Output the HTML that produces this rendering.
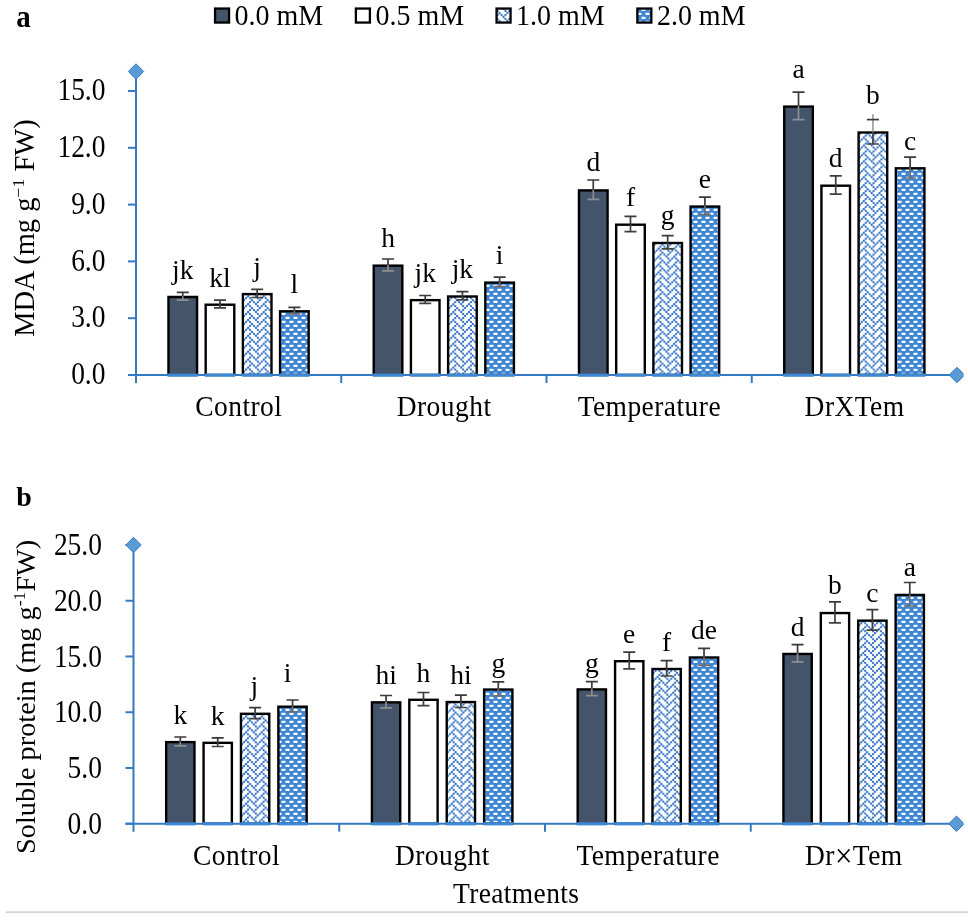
<!DOCTYPE html><html><head><meta charset="utf-8"><style>html,body{margin:0;padding:0;background:#fff;}svg{display:block;will-change:transform;}text{font-family:"Liberation Serif", serif;fill:#000;}</style></head><body>
<svg width="968" height="920" viewBox="0 0 968 920">
<defs>
<pattern id="br" patternUnits="userSpaceOnUse" width="8" height="8" x="0" y="0"><rect width="8" height="8" fill="#3f87d3"/><rect x="1.3" y="0.8" width="4.4" height="2.3" rx="1.1" fill="#fff"/><rect x="5.3" y="4.8" width="4.4" height="2.3" rx="1.1" fill="#fff"/><rect x="-2.7" y="4.8" width="4.4" height="2.3" rx="1.1" fill="#fff"/></pattern>
<clipPath id="rclip"><rect x="0" y="0" width="963.6" height="920"/></clipPath>
</defs>
<rect width="968" height="920" fill="#fff"/>
<rect x="168.47" y="296.95" width="28.60" height="78.05" fill="#44546a" stroke="#000" stroke-width="2.40"/>
<path d="M182.78 292.40 V296.25 M176.78 292.40 H188.78" stroke="#3a3a3a" stroke-width="1.7" fill="none"/>
<path d="M182.78 296.25 V300.10 M176.78 300.10 H188.78" stroke="#8e8e8e" stroke-width="1.7" fill="none"/>
<text x="182.78" y="279.20" text-anchor="middle" font-size="27.50" font-weight="normal">jk</text>
<rect x="205.68" y="304.70" width="28.60" height="70.30" fill="#fff" stroke="#000" stroke-width="2.40"/>
<path d="M219.98 300.10 V304.00 M213.98 300.10 H225.98" stroke="#3a3a3a" stroke-width="1.7" fill="none"/>
<path d="M219.98 304.00 V307.90 M213.98 307.90 H225.98" stroke="#404040" stroke-width="1.7" fill="none"/>
<text x="219.98" y="287.00" text-anchor="middle" font-size="27.50" font-weight="normal">kl</text>
<rect x="242.88" y="294.10" width="28.60" height="80.90" fill="url(#zzb0)" stroke="#000" stroke-width="2.40"/>
<path d="M257.18 289.30 V293.40 M251.18 289.30 H263.18" stroke="#3a3a3a" stroke-width="1.7" fill="none"/>
<path d="M257.18 293.40 V297.50 M251.18 297.50 H263.18" stroke="#444444" stroke-width="1.7" fill="none"/>
<text x="257.18" y="275.80" text-anchor="middle" font-size="27.50" font-weight="normal">j</text>
<rect x="280.07" y="311.30" width="28.60" height="63.70" fill="url(#br)" stroke="#000" stroke-width="2.40"/>
<path d="M294.38 307.30 V310.60 M288.38 307.30 H300.38" stroke="#3a3a3a" stroke-width="1.7" fill="none"/>
<path d="M294.38 310.60 V313.90 M288.38 313.90 H300.38" stroke="#6e6e6e" stroke-width="1.7" fill="none"/>
<text x="294.38" y="292.90" text-anchor="middle" font-size="27.50" font-weight="normal">l</text>
<rect x="373.72" y="265.65" width="28.60" height="109.35" fill="#44546a" stroke="#000" stroke-width="2.40"/>
<path d="M388.02 259.00 V264.95 M382.02 259.00 H394.02" stroke="#3a3a3a" stroke-width="1.7" fill="none"/>
<path d="M388.02 264.95 V270.90 M382.02 270.90 H394.02" stroke="#8e8e8e" stroke-width="1.7" fill="none"/>
<text x="388.02" y="247.20" text-anchor="middle" font-size="27.50" font-weight="normal">h</text>
<rect x="410.92" y="300.15" width="28.60" height="74.85" fill="#fff" stroke="#000" stroke-width="2.40"/>
<path d="M425.22 295.50 V299.45 M419.22 295.50 H431.22" stroke="#3a3a3a" stroke-width="1.7" fill="none"/>
<path d="M425.22 299.45 V303.40 M419.22 303.40 H431.22" stroke="#404040" stroke-width="1.7" fill="none"/>
<text x="425.22" y="281.80" text-anchor="middle" font-size="27.50" font-weight="normal">jk</text>
<rect x="448.12" y="296.50" width="28.60" height="78.50" fill="url(#zzb1)" stroke="#000" stroke-width="2.40"/>
<path d="M462.42 291.70 V295.80 M456.42 291.70 H468.42" stroke="#3a3a3a" stroke-width="1.7" fill="none"/>
<path d="M462.42 295.80 V299.90 M456.42 299.90 H468.42" stroke="#444444" stroke-width="1.7" fill="none"/>
<text x="462.42" y="278.00" text-anchor="middle" font-size="27.50" font-weight="normal">jk</text>
<rect x="485.32" y="282.60" width="28.60" height="92.40" fill="url(#br)" stroke="#000" stroke-width="2.40"/>
<path d="M499.62 277.10 V281.90 M493.62 277.10 H505.62" stroke="#3a3a3a" stroke-width="1.7" fill="none"/>
<path d="M499.62 281.90 V286.70 M493.62 286.70 H505.62" stroke="#6e6e6e" stroke-width="1.7" fill="none"/>
<text x="499.62" y="263.90" text-anchor="middle" font-size="27.50" font-weight="normal">i</text>
<rect x="578.98" y="190.40" width="28.60" height="184.60" fill="#44546a" stroke="#000" stroke-width="2.40"/>
<path d="M593.27 180.00 V189.70 M587.27 180.00 H599.27" stroke="#3a3a3a" stroke-width="1.7" fill="none"/>
<path d="M593.27 189.70 V199.40 M587.27 199.40 H599.27" stroke="#8e8e8e" stroke-width="1.7" fill="none"/>
<text x="593.27" y="170.70" text-anchor="middle" font-size="27.50" font-weight="normal">d</text>
<rect x="616.18" y="224.70" width="28.60" height="150.30" fill="#fff" stroke="#000" stroke-width="2.40"/>
<path d="M630.48 216.35 V224.00 M624.48 216.35 H636.48" stroke="#3a3a3a" stroke-width="1.7" fill="none"/>
<path d="M630.48 224.00 V231.65 M624.48 231.65 H636.48" stroke="#404040" stroke-width="1.7" fill="none"/>
<text x="630.48" y="206.40" text-anchor="middle" font-size="27.50" font-weight="normal">f</text>
<rect x="653.38" y="243.00" width="28.60" height="132.00" fill="url(#zzb2)" stroke="#000" stroke-width="2.40"/>
<path d="M667.67 235.70 V242.30 M661.67 235.70 H673.67" stroke="#3a3a3a" stroke-width="1.7" fill="none"/>
<path d="M667.67 242.30 V248.90 M661.67 248.90 H673.67" stroke="#444444" stroke-width="1.7" fill="none"/>
<text x="667.67" y="223.70" text-anchor="middle" font-size="27.50" font-weight="normal">g</text>
<rect x="690.58" y="206.55" width="28.60" height="168.45" fill="url(#br)" stroke="#000" stroke-width="2.40"/>
<path d="M704.88 197.10 V205.85 M698.88 197.10 H710.88" stroke="#3a3a3a" stroke-width="1.7" fill="none"/>
<path d="M704.88 205.85 V214.60 M698.88 214.60 H710.88" stroke="#6e6e6e" stroke-width="1.7" fill="none"/>
<text x="704.88" y="188.20" text-anchor="middle" font-size="27.50" font-weight="normal">e</text>
<rect x="784.23" y="106.60" width="28.60" height="268.40" fill="#44546a" stroke="#000" stroke-width="2.40"/>
<path d="M798.52 92.20 V105.90 M792.52 92.20 H804.52" stroke="#3a3a3a" stroke-width="1.7" fill="none"/>
<path d="M798.52 105.90 V119.60 M792.52 119.60 H804.52" stroke="#8e8e8e" stroke-width="1.7" fill="none"/>
<text x="798.52" y="77.80" text-anchor="middle" font-size="27.50" font-weight="normal">a</text>
<rect x="821.43" y="185.70" width="28.60" height="189.30" fill="#fff" stroke="#000" stroke-width="2.40"/>
<path d="M835.73 175.80 V185.00 M829.73 175.80 H841.73" stroke="#3a3a3a" stroke-width="1.7" fill="none"/>
<path d="M835.73 185.00 V194.20 M829.73 194.20 H841.73" stroke="#404040" stroke-width="1.7" fill="none"/>
<text x="835.73" y="166.50" text-anchor="middle" font-size="27.50" font-weight="normal">d</text>
<rect x="858.62" y="132.50" width="28.60" height="242.50" fill="url(#zzb3)" stroke="#000" stroke-width="2.40"/>
<path d="M872.92 114.30 V131.80" stroke="#a4a4a4" stroke-width="1.8" fill="none"/>
<path d="M866.92 119.60 H878.92" stroke="#3a3a3a" stroke-width="1.7" fill="none"/>
<path d="M872.92 131.80 V144.00 M866.92 144.00 H878.92" stroke="#444444" stroke-width="1.7" fill="none"/>
<text x="872.92" y="104.20" text-anchor="middle" font-size="27.50" font-weight="normal">b</text>
<rect x="895.83" y="168.30" width="28.60" height="206.70" fill="url(#br)" stroke="#000" stroke-width="2.40"/>
<path d="M910.12 157.20 V167.60 M904.12 157.20 H916.12" stroke="#3a3a3a" stroke-width="1.7" fill="none"/>
<path d="M910.12 167.60 V178.00 M904.12 178.00 H916.12" stroke="#6e6e6e" stroke-width="1.7" fill="none"/>
<text x="910.12" y="150.10" text-anchor="middle" font-size="27.50" font-weight="normal">c</text>
<path d="M128.00 375.00 H957.00" stroke="#3479c4" stroke-width="2" fill="none"/>
<path d="M136.00 71.50 V383.00" stroke="#3479c4" stroke-width="2" fill="none"/>
<rect x="167.88" y="373.50" width="29.80" height="3.2" fill="#3f88d4"/>
<rect x="205.08" y="373.50" width="29.80" height="3.2" fill="#3f88d4"/>
<rect x="242.28" y="373.50" width="29.80" height="3.2" fill="#3f88d4"/>
<rect x="279.48" y="373.50" width="29.80" height="3.2" fill="#3f88d4"/>
<rect x="373.12" y="373.50" width="29.80" height="3.2" fill="#3f88d4"/>
<rect x="410.32" y="373.50" width="29.80" height="3.2" fill="#3f88d4"/>
<rect x="447.52" y="373.50" width="29.80" height="3.2" fill="#3f88d4"/>
<rect x="484.73" y="373.50" width="29.80" height="3.2" fill="#3f88d4"/>
<rect x="578.38" y="373.50" width="29.80" height="3.2" fill="#3f88d4"/>
<rect x="615.58" y="373.50" width="29.80" height="3.2" fill="#3f88d4"/>
<rect x="652.77" y="373.50" width="29.80" height="3.2" fill="#3f88d4"/>
<rect x="689.98" y="373.50" width="29.80" height="3.2" fill="#3f88d4"/>
<rect x="783.62" y="373.50" width="29.80" height="3.2" fill="#3f88d4"/>
<rect x="820.83" y="373.50" width="29.80" height="3.2" fill="#3f88d4"/>
<rect x="858.02" y="373.50" width="29.80" height="3.2" fill="#3f88d4"/>
<rect x="895.23" y="373.50" width="29.80" height="3.2" fill="#3f88d4"/>
<path d="M341.25 375.00 V383.00" stroke="#3479c4" stroke-width="2" fill="none"/>
<path d="M546.50 375.00 V383.00" stroke="#3479c4" stroke-width="2" fill="none"/>
<path d="M751.75 375.00 V383.00" stroke="#3479c4" stroke-width="2" fill="none"/>
<path d="M128.00 375.00 H136.00" stroke="#3479c4" stroke-width="2" fill="none"/>
<text x="105.50" y="343.036" text-anchor="end" font-size="27.50" font-weight="normal" transform="scale(1 1.1200)">0.0</text>
<path d="M128.00 318.20 H136.00" stroke="#3479c4" stroke-width="2" fill="none"/>
<text x="105.50" y="292.321" text-anchor="end" font-size="27.50" font-weight="normal" transform="scale(1 1.1200)">3.0</text>
<path d="M128.00 261.40 H136.00" stroke="#3479c4" stroke-width="2" fill="none"/>
<text x="105.50" y="241.607" text-anchor="end" font-size="27.50" font-weight="normal" transform="scale(1 1.1200)">6.0</text>
<path d="M128.00 204.60 H136.00" stroke="#3479c4" stroke-width="2" fill="none"/>
<text x="105.50" y="190.893" text-anchor="end" font-size="27.50" font-weight="normal" transform="scale(1 1.1200)">9.0</text>
<path d="M128.00 147.80 H136.00" stroke="#3479c4" stroke-width="2" fill="none"/>
<text x="105.50" y="140.179" text-anchor="end" font-size="27.50" font-weight="normal" transform="scale(1 1.1200)">12.0</text>
<path d="M128.00 91.00 H136.00" stroke="#3479c4" stroke-width="2" fill="none"/>
<text x="105.50" y="89.464" text-anchor="end" font-size="27.50" font-weight="normal" transform="scale(1 1.1200)">15.0</text>
<path d="M136.00 63.80 L143.70 71.50 L136.00 79.20 L128.30 71.50 Z" fill="#5b9bd5" stroke="#3479c4" stroke-width="1"/>
<path d="M957.00 367.30 L964.70 375.00 L957.00 382.70 L949.30 375.00 Z" fill="#5b9bd5" stroke="#3479c4" stroke-width="1" clip-path="url(#rclip)"/>
<text x="238.85" y="390.610" text-anchor="middle" font-size="27.50" font-weight="normal" transform="scale(1 1.0650)" letter-spacing="0.45">Control</text>
<text x="444.10" y="390.610" text-anchor="middle" font-size="27.50" font-weight="normal" transform="scale(1 1.0650)" letter-spacing="0.45">Drought</text>
<text x="649.35" y="390.610" text-anchor="middle" font-size="27.50" font-weight="normal" transform="scale(1 1.0650)" letter-spacing="0.45">Temperature</text>
<text x="854.60" y="390.610" text-anchor="middle" font-size="27.50" font-weight="normal" transform="scale(1 1.0650)" letter-spacing="0.45">DrXTem</text>
<rect x="166.17" y="742.10" width="28.30" height="81.60" fill="#44546a" stroke="#000" stroke-width="2.40"/>
<path d="M180.32 737.00 V741.40 M174.32 737.00 H186.32" stroke="#3a3a3a" stroke-width="1.7" fill="none"/>
<path d="M180.32 741.40 V745.80 M174.32 745.80 H186.32" stroke="#8e8e8e" stroke-width="1.7" fill="none"/>
<text x="180.32" y="723.70" text-anchor="middle" font-size="27.50" font-weight="normal">k</text>
<rect x="203.57" y="742.85" width="28.30" height="80.85" fill="#fff" stroke="#000" stroke-width="2.40"/>
<path d="M217.72 737.80 V742.15 M211.72 737.80 H223.72" stroke="#3a3a3a" stroke-width="1.7" fill="none"/>
<path d="M217.72 742.15 V746.50 M211.72 746.50 H223.72" stroke="#404040" stroke-width="1.7" fill="none"/>
<text x="217.72" y="725.00" text-anchor="middle" font-size="27.50" font-weight="normal">k</text>
<rect x="240.97" y="713.80" width="28.30" height="109.90" fill="url(#zzb4)" stroke="#000" stroke-width="2.40"/>
<path d="M255.12 707.60 V713.10 M249.12 707.60 H261.12" stroke="#3a3a3a" stroke-width="1.7" fill="none"/>
<path d="M255.12 713.10 V718.60 M249.12 718.60 H261.12" stroke="#444444" stroke-width="1.7" fill="none"/>
<text x="254.20" y="695.00" text-anchor="middle" font-size="27.50" font-weight="normal">j</text>
<rect x="278.37" y="706.70" width="28.30" height="117.00" fill="url(#br)" stroke="#000" stroke-width="2.40"/>
<path d="M292.52 700.00 V706.00 M286.52 700.00 H298.52" stroke="#3a3a3a" stroke-width="1.7" fill="none"/>
<path d="M292.52 706.00 V712.00 M286.52 712.00 H298.52" stroke="#6e6e6e" stroke-width="1.7" fill="none"/>
<text x="287.60" y="681.80" text-anchor="middle" font-size="27.50" font-weight="normal">i</text>
<rect x="371.93" y="702.35" width="28.30" height="121.35" fill="#44546a" stroke="#000" stroke-width="2.40"/>
<path d="M386.08 695.50 V701.65 M380.08 695.50 H392.08" stroke="#3a3a3a" stroke-width="1.7" fill="none"/>
<path d="M386.08 701.65 V707.80 M380.08 707.80 H392.08" stroke="#8e8e8e" stroke-width="1.7" fill="none"/>
<text x="386.08" y="683.70" text-anchor="middle" font-size="27.50" font-weight="normal">hi</text>
<rect x="409.32" y="699.80" width="28.30" height="123.90" fill="#fff" stroke="#000" stroke-width="2.40"/>
<path d="M423.48 692.50 V699.10 M417.48 692.50 H429.48" stroke="#3a3a3a" stroke-width="1.7" fill="none"/>
<path d="M423.48 699.10 V705.70 M417.48 705.70 H429.48" stroke="#404040" stroke-width="1.7" fill="none"/>
<text x="423.48" y="681.80" text-anchor="middle" font-size="27.50" font-weight="normal">h</text>
<rect x="446.73" y="702.05" width="28.30" height="121.65" fill="url(#zzb5)" stroke="#000" stroke-width="2.40"/>
<path d="M460.88 695.20 V701.35 M454.88 695.20 H466.88" stroke="#3a3a3a" stroke-width="1.7" fill="none"/>
<path d="M460.88 701.35 V707.50 M454.88 707.50 H466.88" stroke="#444444" stroke-width="1.7" fill="none"/>
<text x="460.88" y="683.60" text-anchor="middle" font-size="27.50" font-weight="normal">hi</text>
<rect x="484.12" y="689.55" width="28.30" height="134.15" fill="url(#br)" stroke="#000" stroke-width="2.40"/>
<path d="M498.28 681.80 V688.85 M492.28 681.80 H504.28" stroke="#3a3a3a" stroke-width="1.7" fill="none"/>
<path d="M498.28 688.85 V695.90 M492.28 695.90 H504.28" stroke="#6e6e6e" stroke-width="1.7" fill="none"/>
<text x="498.28" y="671.60" text-anchor="middle" font-size="27.50" font-weight="normal">g</text>
<rect x="577.68" y="689.40" width="28.30" height="134.30" fill="#44546a" stroke="#000" stroke-width="2.40"/>
<path d="M591.83 681.70 V688.70 M585.83 681.70 H597.83" stroke="#3a3a3a" stroke-width="1.7" fill="none"/>
<path d="M591.83 688.70 V695.70 M585.83 695.70 H597.83" stroke="#8e8e8e" stroke-width="1.7" fill="none"/>
<text x="591.83" y="671.50" text-anchor="middle" font-size="27.50" font-weight="normal">g</text>
<rect x="615.08" y="661.20" width="28.30" height="162.50" fill="#fff" stroke="#000" stroke-width="2.40"/>
<path d="M629.23 652.20 V660.50 M623.23 652.20 H635.23" stroke="#3a3a3a" stroke-width="1.7" fill="none"/>
<path d="M629.23 660.50 V668.80 M623.23 668.80 H635.23" stroke="#404040" stroke-width="1.7" fill="none"/>
<text x="629.23" y="643.00" text-anchor="middle" font-size="27.50" font-weight="normal">e</text>
<rect x="652.48" y="669.00" width="28.30" height="154.70" fill="url(#zzb6)" stroke="#000" stroke-width="2.40"/>
<path d="M666.62 660.60 V668.30 M660.62 660.60 H672.62" stroke="#3a3a3a" stroke-width="1.7" fill="none"/>
<path d="M666.62 668.30 V676.00 M660.62 676.00 H672.62" stroke="#444444" stroke-width="1.7" fill="none"/>
<text x="666.62" y="650.60" text-anchor="middle" font-size="27.50" font-weight="normal">f</text>
<rect x="689.88" y="657.50" width="28.30" height="166.20" fill="url(#br)" stroke="#000" stroke-width="2.40"/>
<path d="M704.02 648.30 V656.80 M698.02 648.30 H710.02" stroke="#3a3a3a" stroke-width="1.7" fill="none"/>
<path d="M704.02 656.80 V665.30 M698.02 665.30 H710.02" stroke="#6e6e6e" stroke-width="1.7" fill="none"/>
<text x="704.02" y="639.00" text-anchor="middle" font-size="27.50" font-weight="normal">de</text>
<rect x="783.43" y="653.95" width="28.30" height="169.75" fill="#44546a" stroke="#000" stroke-width="2.40"/>
<path d="M797.58 644.60 V653.25 M791.58 644.60 H803.58" stroke="#3a3a3a" stroke-width="1.7" fill="none"/>
<path d="M797.58 653.25 V661.90 M791.58 661.90 H803.58" stroke="#8e8e8e" stroke-width="1.7" fill="none"/>
<text x="797.58" y="635.50" text-anchor="middle" font-size="27.50" font-weight="normal">d</text>
<rect x="820.83" y="613.05" width="28.30" height="210.65" fill="#fff" stroke="#000" stroke-width="2.40"/>
<path d="M834.98 601.80 V612.35 M828.98 601.80 H840.98" stroke="#3a3a3a" stroke-width="1.7" fill="none"/>
<path d="M834.98 612.35 V622.90 M828.98 622.90 H840.98" stroke="#404040" stroke-width="1.7" fill="none"/>
<text x="834.98" y="594.40" text-anchor="middle" font-size="27.50" font-weight="normal">b</text>
<rect x="858.23" y="620.65" width="28.30" height="203.05" fill="url(#zzb7)" stroke="#000" stroke-width="2.40"/>
<path d="M872.38 609.70 V619.95 M866.38 609.70 H878.38" stroke="#3a3a3a" stroke-width="1.7" fill="none"/>
<path d="M872.38 619.95 V630.20 M866.38 630.20 H878.38" stroke="#444444" stroke-width="1.7" fill="none"/>
<text x="872.38" y="602.20" text-anchor="middle" font-size="27.50" font-weight="normal">c</text>
<rect x="895.62" y="594.95" width="28.30" height="228.75" fill="url(#br)" stroke="#000" stroke-width="2.40"/>
<path d="M909.77 582.50 V594.25 M903.77 582.50 H915.77" stroke="#3a3a3a" stroke-width="1.7" fill="none"/>
<path d="M909.77 594.25 V606.00 M903.77 606.00 H915.77" stroke="#6e6e6e" stroke-width="1.7" fill="none"/>
<text x="909.77" y="576.20" text-anchor="middle" font-size="27.50" font-weight="normal">a</text>
<path d="M125.50 823.70 H956.50" stroke="#3479c4" stroke-width="2" fill="none"/>
<path d="M133.50 545.00 V831.70" stroke="#3479c4" stroke-width="2" fill="none"/>
<rect x="165.57" y="822.20" width="29.50" height="3.2" fill="#3f88d4"/>
<rect x="202.97" y="822.20" width="29.50" height="3.2" fill="#3f88d4"/>
<rect x="240.37" y="822.20" width="29.50" height="3.2" fill="#3f88d4"/>
<rect x="277.77" y="822.20" width="29.50" height="3.2" fill="#3f88d4"/>
<rect x="371.33" y="822.20" width="29.50" height="3.2" fill="#3f88d4"/>
<rect x="408.73" y="822.20" width="29.50" height="3.2" fill="#3f88d4"/>
<rect x="446.13" y="822.20" width="29.50" height="3.2" fill="#3f88d4"/>
<rect x="483.53" y="822.20" width="29.50" height="3.2" fill="#3f88d4"/>
<rect x="577.08" y="822.20" width="29.50" height="3.2" fill="#3f88d4"/>
<rect x="614.48" y="822.20" width="29.50" height="3.2" fill="#3f88d4"/>
<rect x="651.88" y="822.20" width="29.50" height="3.2" fill="#3f88d4"/>
<rect x="689.27" y="822.20" width="29.50" height="3.2" fill="#3f88d4"/>
<rect x="782.83" y="822.20" width="29.50" height="3.2" fill="#3f88d4"/>
<rect x="820.23" y="822.20" width="29.50" height="3.2" fill="#3f88d4"/>
<rect x="857.62" y="822.20" width="29.50" height="3.2" fill="#3f88d4"/>
<rect x="895.02" y="822.20" width="29.50" height="3.2" fill="#3f88d4"/>
<path d="M339.25 823.70 V831.70" stroke="#3479c4" stroke-width="2" fill="none"/>
<path d="M545.00 823.70 V831.70" stroke="#3479c4" stroke-width="2" fill="none"/>
<path d="M750.75 823.70 V831.70" stroke="#3479c4" stroke-width="2" fill="none"/>
<path d="M125.50 823.70 H133.50" stroke="#3479c4" stroke-width="2" fill="none"/>
<text x="102.00" y="744.464" text-anchor="end" font-size="27.50" font-weight="normal" transform="scale(1 1.1200)">0.0</text>
<path d="M125.50 767.96 H133.50" stroke="#3479c4" stroke-width="2" fill="none"/>
<text x="102.00" y="694.696" text-anchor="end" font-size="27.50" font-weight="normal" transform="scale(1 1.1200)">5.0</text>
<path d="M125.50 712.22 H133.50" stroke="#3479c4" stroke-width="2" fill="none"/>
<text x="102.00" y="644.929" text-anchor="end" font-size="27.50" font-weight="normal" transform="scale(1 1.1200)">10.0</text>
<path d="M125.50 656.48 H133.50" stroke="#3479c4" stroke-width="2" fill="none"/>
<text x="102.00" y="595.161" text-anchor="end" font-size="27.50" font-weight="normal" transform="scale(1 1.1200)">15.0</text>
<path d="M125.50 600.74 H133.50" stroke="#3479c4" stroke-width="2" fill="none"/>
<text x="102.00" y="545.393" text-anchor="end" font-size="27.50" font-weight="normal" transform="scale(1 1.1200)">20.0</text>
<path d="M125.50 545.00 H133.50" stroke="#3479c4" stroke-width="2" fill="none"/>
<text x="102.00" y="495.625" text-anchor="end" font-size="27.50" font-weight="normal" transform="scale(1 1.1200)">25.0</text>
<path d="M133.50 537.30 L141.20 545.00 L133.50 552.70 L125.80 545.00 Z" fill="#5b9bd5" stroke="#3479c4" stroke-width="1"/>
<path d="M956.50 816.00 L964.20 823.70 L956.50 831.40 L948.80 823.70 Z" fill="#5b9bd5" stroke="#3479c4" stroke-width="1" clip-path="url(#rclip)"/>
<text x="236.60" y="812.394" text-anchor="middle" font-size="27.50" font-weight="normal" transform="scale(1 1.0650)" letter-spacing="0.45">Control</text>
<text x="442.35" y="812.394" text-anchor="middle" font-size="27.50" font-weight="normal" transform="scale(1 1.0650)" letter-spacing="0.45">Drought</text>
<text x="648.10" y="812.394" text-anchor="middle" font-size="27.50" font-weight="normal" transform="scale(1 1.0650)" letter-spacing="0.45">Temperature</text>
<text x="853.85" y="812.394" text-anchor="middle" font-size="27.50" font-weight="normal" transform="scale(1 1.0650)" letter-spacing="0.45">Dr<tspan font-size="31" dy="1.6">×</tspan><tspan dy="-1.6">Tem</tspan></text>
<text x="23.50" y="25.352" text-anchor="middle" font-size="29.00" font-weight="bold" transform="scale(1 1.0650)">a</text>
<text x="24.00" y="506.00" text-anchor="middle" font-size="28.00" font-weight="bold">b</text>
<rect x="215.05" y="8.55" width="14.0" height="14.0" fill="#44546a" stroke="#000" stroke-width="2.3"/>
<text x="234.60" y="23.099" text-anchor="start" font-size="28.00" font-weight="normal" transform="scale(1 1.0650)">0.0 mM</text>
<rect x="355.90" y="8.55" width="14.0" height="14.0" fill="#fff" stroke="#000" stroke-width="2.3"/>
<text x="375.45" y="23.099" text-anchor="start" font-size="28.00" font-weight="normal" transform="scale(1 1.0650)">0.5 mM</text>
<rect x="496.55" y="8.55" width="14.0" height="14.0" fill="url(#zz)" stroke="#000" stroke-width="2.3"/>
<text x="516.10" y="23.099" text-anchor="start" font-size="28.00" font-weight="normal" transform="scale(1 1.0650)">1.0 mM</text>
<rect x="637.35" y="8.55" width="14.0" height="14.0" fill="url(#br)" stroke="#000" stroke-width="2.3"/>
<text x="656.90" y="23.099" text-anchor="start" font-size="28.00" font-weight="normal" transform="scale(1 1.0650)">2.0 mM</text>
<text transform="translate(34.20 228.10) rotate(-90)" text-anchor="middle" font-size="28.50">MDA (mg g<tspan font-size="17.67" dy="-10">−1</tspan><tspan dy="10"> FW)</tspan></text>
<text transform="translate(34.60 696.90) rotate(-90)" text-anchor="middle" font-size="28.30">Soluble protein (mg g<tspan font-size="17.55" dy="-10">-1</tspan><tspan dy="10">FW)</tspan></text>
<text x="516.19" y="847.981" text-anchor="middle" font-size="27.50" font-weight="normal" transform="scale(1 1.0650)" letter-spacing="0.38">Treatments</text>
<rect x="6" y="911.3" width="962" height="1.8" fill="#d4d4d4"/>
<defs><pattern id="zzb0" patternUnits="userSpaceOnUse" width="15.700" height="7.930" x="247.044" y="303.109"><rect width="15.700" height="7.930" fill="#fff"/><path d="M0.98 0.99L-0.98 2.97M0.98 8.92L-0.98 10.90M16.68 0.99L14.72 2.97M16.68 8.92L14.72 10.90M0.98 0.99L2.94 2.97M0.98 8.92L2.94 10.90M16.68 0.99L18.64 2.97M16.68 8.92L18.64 10.90M8.83 0.99L10.79 2.97M8.83 8.92L10.79 10.90M2.94 2.97L4.91 4.96M10.79 2.97L12.76 4.96M-0.98 2.97L-2.94 4.96M14.72 2.97L12.76 4.96M4.91 -2.97L2.94 -0.99M4.91 4.96L2.94 6.94M4.91 -2.97L6.87 -0.99M4.91 4.96L6.87 6.94M12.76 -2.97L10.79 -0.99M12.76 4.96L10.79 6.94M2.94 -0.99L0.98 0.99M2.94 6.94L0.98 8.92M18.64 -0.99L16.68 0.99M18.64 6.94L16.68 8.92M6.87 -0.99L8.83 0.99M6.87 6.94L8.83 8.92M10.79 -0.99L8.83 0.99M10.79 6.94L8.83 8.92" stroke="#5f97d8" stroke-width="1.00" fill="none"/><g fill="#2163c0"><rect x="0.11" y="0.12" width="1.75" height="1.75"/><rect x="0.11" y="8.05" width="1.75" height="1.75"/><rect x="15.81" y="0.12" width="1.75" height="1.75"/><rect x="15.81" y="8.05" width="1.75" height="1.75"/><rect x="7.96" y="0.12" width="1.75" height="1.75"/><rect x="7.96" y="8.05" width="1.75" height="1.75"/><rect x="2.07" y="2.10" width="1.75" height="1.75"/><rect x="9.92" y="2.10" width="1.75" height="1.75"/><rect x="13.84" y="2.10" width="1.75" height="1.75"/><rect x="4.03" y="4.08" width="1.75" height="1.75"/><rect x="11.88" y="4.08" width="1.75" height="1.75"/><rect x="2.07" y="6.06" width="1.75" height="1.75"/><rect x="5.99" y="6.06" width="1.75" height="1.75"/><rect x="9.92" y="6.06" width="1.75" height="1.75"/></g></pattern><pattern id="zzb1" patternUnits="userSpaceOnUse" width="15.700" height="7.930" x="452.294" y="303.109"><rect width="15.700" height="7.930" fill="#fff"/><path d="M0.98 0.99L-0.98 2.97M0.98 8.92L-0.98 10.90M16.68 0.99L14.72 2.97M16.68 8.92L14.72 10.90M0.98 0.99L2.94 2.97M0.98 8.92L2.94 10.90M16.68 0.99L18.64 2.97M16.68 8.92L18.64 10.90M8.83 0.99L10.79 2.97M8.83 8.92L10.79 10.90M2.94 2.97L4.91 4.96M10.79 2.97L12.76 4.96M-0.98 2.97L-2.94 4.96M14.72 2.97L12.76 4.96M4.91 -2.97L2.94 -0.99M4.91 4.96L2.94 6.94M4.91 -2.97L6.87 -0.99M4.91 4.96L6.87 6.94M12.76 -2.97L10.79 -0.99M12.76 4.96L10.79 6.94M2.94 -0.99L0.98 0.99M2.94 6.94L0.98 8.92M18.64 -0.99L16.68 0.99M18.64 6.94L16.68 8.92M6.87 -0.99L8.83 0.99M6.87 6.94L8.83 8.92M10.79 -0.99L8.83 0.99M10.79 6.94L8.83 8.92" stroke="#5f97d8" stroke-width="1.00" fill="none"/><g fill="#2163c0"><rect x="0.11" y="0.12" width="1.75" height="1.75"/><rect x="0.11" y="8.05" width="1.75" height="1.75"/><rect x="15.81" y="0.12" width="1.75" height="1.75"/><rect x="15.81" y="8.05" width="1.75" height="1.75"/><rect x="7.96" y="0.12" width="1.75" height="1.75"/><rect x="7.96" y="8.05" width="1.75" height="1.75"/><rect x="2.07" y="2.10" width="1.75" height="1.75"/><rect x="9.92" y="2.10" width="1.75" height="1.75"/><rect x="13.84" y="2.10" width="1.75" height="1.75"/><rect x="4.03" y="4.08" width="1.75" height="1.75"/><rect x="11.88" y="4.08" width="1.75" height="1.75"/><rect x="2.07" y="6.06" width="1.75" height="1.75"/><rect x="5.99" y="6.06" width="1.75" height="1.75"/><rect x="9.92" y="6.06" width="1.75" height="1.75"/></g></pattern><pattern id="zzb2" patternUnits="userSpaceOnUse" width="15.700" height="7.930" x="657.544" y="303.109"><rect width="15.700" height="7.930" fill="#fff"/><path d="M0.98 0.99L-0.98 2.97M0.98 8.92L-0.98 10.90M16.68 0.99L14.72 2.97M16.68 8.92L14.72 10.90M0.98 0.99L2.94 2.97M0.98 8.92L2.94 10.90M16.68 0.99L18.64 2.97M16.68 8.92L18.64 10.90M8.83 0.99L10.79 2.97M8.83 8.92L10.79 10.90M2.94 2.97L4.91 4.96M10.79 2.97L12.76 4.96M-0.98 2.97L-2.94 4.96M14.72 2.97L12.76 4.96M4.91 -2.97L2.94 -0.99M4.91 4.96L2.94 6.94M4.91 -2.97L6.87 -0.99M4.91 4.96L6.87 6.94M12.76 -2.97L10.79 -0.99M12.76 4.96L10.79 6.94M2.94 -0.99L0.98 0.99M2.94 6.94L0.98 8.92M18.64 -0.99L16.68 0.99M18.64 6.94L16.68 8.92M6.87 -0.99L8.83 0.99M6.87 6.94L8.83 8.92M10.79 -0.99L8.83 0.99M10.79 6.94L8.83 8.92" stroke="#5f97d8" stroke-width="1.00" fill="none"/><g fill="#2163c0"><rect x="0.11" y="0.12" width="1.75" height="1.75"/><rect x="0.11" y="8.05" width="1.75" height="1.75"/><rect x="15.81" y="0.12" width="1.75" height="1.75"/><rect x="15.81" y="8.05" width="1.75" height="1.75"/><rect x="7.96" y="0.12" width="1.75" height="1.75"/><rect x="7.96" y="8.05" width="1.75" height="1.75"/><rect x="2.07" y="2.10" width="1.75" height="1.75"/><rect x="9.92" y="2.10" width="1.75" height="1.75"/><rect x="13.84" y="2.10" width="1.75" height="1.75"/><rect x="4.03" y="4.08" width="1.75" height="1.75"/><rect x="11.88" y="4.08" width="1.75" height="1.75"/><rect x="2.07" y="6.06" width="1.75" height="1.75"/><rect x="5.99" y="6.06" width="1.75" height="1.75"/><rect x="9.92" y="6.06" width="1.75" height="1.75"/></g></pattern><pattern id="zzb3" patternUnits="userSpaceOnUse" width="15.700" height="7.930" x="862.794" y="303.109"><rect width="15.700" height="7.930" fill="#fff"/><path d="M0.98 0.99L-0.98 2.97M0.98 8.92L-0.98 10.90M16.68 0.99L14.72 2.97M16.68 8.92L14.72 10.90M0.98 0.99L2.94 2.97M0.98 8.92L2.94 10.90M16.68 0.99L18.64 2.97M16.68 8.92L18.64 10.90M8.83 0.99L10.79 2.97M8.83 8.92L10.79 10.90M2.94 2.97L4.91 4.96M10.79 2.97L12.76 4.96M-0.98 2.97L-2.94 4.96M14.72 2.97L12.76 4.96M4.91 -2.97L2.94 -0.99M4.91 4.96L2.94 6.94M4.91 -2.97L6.87 -0.99M4.91 4.96L6.87 6.94M12.76 -2.97L10.79 -0.99M12.76 4.96L10.79 6.94M2.94 -0.99L0.98 0.99M2.94 6.94L0.98 8.92M18.64 -0.99L16.68 0.99M18.64 6.94L16.68 8.92M6.87 -0.99L8.83 0.99M6.87 6.94L8.83 8.92M10.79 -0.99L8.83 0.99M10.79 6.94L8.83 8.92" stroke="#5f97d8" stroke-width="1.00" fill="none"/><g fill="#2163c0"><rect x="0.11" y="0.12" width="1.75" height="1.75"/><rect x="0.11" y="8.05" width="1.75" height="1.75"/><rect x="15.81" y="0.12" width="1.75" height="1.75"/><rect x="15.81" y="8.05" width="1.75" height="1.75"/><rect x="7.96" y="0.12" width="1.75" height="1.75"/><rect x="7.96" y="8.05" width="1.75" height="1.75"/><rect x="2.07" y="2.10" width="1.75" height="1.75"/><rect x="9.92" y="2.10" width="1.75" height="1.75"/><rect x="13.84" y="2.10" width="1.75" height="1.75"/><rect x="4.03" y="4.08" width="1.75" height="1.75"/><rect x="11.88" y="4.08" width="1.75" height="1.75"/><rect x="2.07" y="6.06" width="1.75" height="1.75"/><rect x="5.99" y="6.06" width="1.75" height="1.75"/><rect x="9.92" y="6.06" width="1.75" height="1.75"/></g></pattern><pattern id="zzb4" patternUnits="userSpaceOnUse" width="15.700" height="7.930" x="244.994" y="303.109"><rect width="15.700" height="7.930" fill="#fff"/><path d="M0.98 0.99L-0.98 2.97M0.98 8.92L-0.98 10.90M16.68 0.99L14.72 2.97M16.68 8.92L14.72 10.90M0.98 0.99L2.94 2.97M0.98 8.92L2.94 10.90M16.68 0.99L18.64 2.97M16.68 8.92L18.64 10.90M8.83 0.99L10.79 2.97M8.83 8.92L10.79 10.90M2.94 2.97L4.91 4.96M10.79 2.97L12.76 4.96M-0.98 2.97L-2.94 4.96M14.72 2.97L12.76 4.96M4.91 -2.97L2.94 -0.99M4.91 4.96L2.94 6.94M4.91 -2.97L6.87 -0.99M4.91 4.96L6.87 6.94M12.76 -2.97L10.79 -0.99M12.76 4.96L10.79 6.94M2.94 -0.99L0.98 0.99M2.94 6.94L0.98 8.92M18.64 -0.99L16.68 0.99M18.64 6.94L16.68 8.92M6.87 -0.99L8.83 0.99M6.87 6.94L8.83 8.92M10.79 -0.99L8.83 0.99M10.79 6.94L8.83 8.92" stroke="#5f97d8" stroke-width="1.00" fill="none"/><g fill="#2163c0"><rect x="0.11" y="0.12" width="1.75" height="1.75"/><rect x="0.11" y="8.05" width="1.75" height="1.75"/><rect x="15.81" y="0.12" width="1.75" height="1.75"/><rect x="15.81" y="8.05" width="1.75" height="1.75"/><rect x="7.96" y="0.12" width="1.75" height="1.75"/><rect x="7.96" y="8.05" width="1.75" height="1.75"/><rect x="2.07" y="2.10" width="1.75" height="1.75"/><rect x="9.92" y="2.10" width="1.75" height="1.75"/><rect x="13.84" y="2.10" width="1.75" height="1.75"/><rect x="4.03" y="4.08" width="1.75" height="1.75"/><rect x="11.88" y="4.08" width="1.75" height="1.75"/><rect x="2.07" y="6.06" width="1.75" height="1.75"/><rect x="5.99" y="6.06" width="1.75" height="1.75"/><rect x="9.92" y="6.06" width="1.75" height="1.75"/></g></pattern><pattern id="zzb5" patternUnits="userSpaceOnUse" width="15.700" height="7.930" x="450.744" y="303.109"><rect width="15.700" height="7.930" fill="#fff"/><path d="M0.98 0.99L-0.98 2.97M0.98 8.92L-0.98 10.90M16.68 0.99L14.72 2.97M16.68 8.92L14.72 10.90M0.98 0.99L2.94 2.97M0.98 8.92L2.94 10.90M16.68 0.99L18.64 2.97M16.68 8.92L18.64 10.90M8.83 0.99L10.79 2.97M8.83 8.92L10.79 10.90M2.94 2.97L4.91 4.96M10.79 2.97L12.76 4.96M-0.98 2.97L-2.94 4.96M14.72 2.97L12.76 4.96M4.91 -2.97L2.94 -0.99M4.91 4.96L2.94 6.94M4.91 -2.97L6.87 -0.99M4.91 4.96L6.87 6.94M12.76 -2.97L10.79 -0.99M12.76 4.96L10.79 6.94M2.94 -0.99L0.98 0.99M2.94 6.94L0.98 8.92M18.64 -0.99L16.68 0.99M18.64 6.94L16.68 8.92M6.87 -0.99L8.83 0.99M6.87 6.94L8.83 8.92M10.79 -0.99L8.83 0.99M10.79 6.94L8.83 8.92" stroke="#5f97d8" stroke-width="1.00" fill="none"/><g fill="#2163c0"><rect x="0.11" y="0.12" width="1.75" height="1.75"/><rect x="0.11" y="8.05" width="1.75" height="1.75"/><rect x="15.81" y="0.12" width="1.75" height="1.75"/><rect x="15.81" y="8.05" width="1.75" height="1.75"/><rect x="7.96" y="0.12" width="1.75" height="1.75"/><rect x="7.96" y="8.05" width="1.75" height="1.75"/><rect x="2.07" y="2.10" width="1.75" height="1.75"/><rect x="9.92" y="2.10" width="1.75" height="1.75"/><rect x="13.84" y="2.10" width="1.75" height="1.75"/><rect x="4.03" y="4.08" width="1.75" height="1.75"/><rect x="11.88" y="4.08" width="1.75" height="1.75"/><rect x="2.07" y="6.06" width="1.75" height="1.75"/><rect x="5.99" y="6.06" width="1.75" height="1.75"/><rect x="9.92" y="6.06" width="1.75" height="1.75"/></g></pattern><pattern id="zzb6" patternUnits="userSpaceOnUse" width="15.700" height="7.930" x="656.494" y="303.109"><rect width="15.700" height="7.930" fill="#fff"/><path d="M0.98 0.99L-0.98 2.97M0.98 8.92L-0.98 10.90M16.68 0.99L14.72 2.97M16.68 8.92L14.72 10.90M0.98 0.99L2.94 2.97M0.98 8.92L2.94 10.90M16.68 0.99L18.64 2.97M16.68 8.92L18.64 10.90M8.83 0.99L10.79 2.97M8.83 8.92L10.79 10.90M2.94 2.97L4.91 4.96M10.79 2.97L12.76 4.96M-0.98 2.97L-2.94 4.96M14.72 2.97L12.76 4.96M4.91 -2.97L2.94 -0.99M4.91 4.96L2.94 6.94M4.91 -2.97L6.87 -0.99M4.91 4.96L6.87 6.94M12.76 -2.97L10.79 -0.99M12.76 4.96L10.79 6.94M2.94 -0.99L0.98 0.99M2.94 6.94L0.98 8.92M18.64 -0.99L16.68 0.99M18.64 6.94L16.68 8.92M6.87 -0.99L8.83 0.99M6.87 6.94L8.83 8.92M10.79 -0.99L8.83 0.99M10.79 6.94L8.83 8.92" stroke="#5f97d8" stroke-width="1.00" fill="none"/><g fill="#2163c0"><rect x="0.11" y="0.12" width="1.75" height="1.75"/><rect x="0.11" y="8.05" width="1.75" height="1.75"/><rect x="15.81" y="0.12" width="1.75" height="1.75"/><rect x="15.81" y="8.05" width="1.75" height="1.75"/><rect x="7.96" y="0.12" width="1.75" height="1.75"/><rect x="7.96" y="8.05" width="1.75" height="1.75"/><rect x="2.07" y="2.10" width="1.75" height="1.75"/><rect x="9.92" y="2.10" width="1.75" height="1.75"/><rect x="13.84" y="2.10" width="1.75" height="1.75"/><rect x="4.03" y="4.08" width="1.75" height="1.75"/><rect x="11.88" y="4.08" width="1.75" height="1.75"/><rect x="2.07" y="6.06" width="1.75" height="1.75"/><rect x="5.99" y="6.06" width="1.75" height="1.75"/><rect x="9.92" y="6.06" width="1.75" height="1.75"/></g></pattern><pattern id="zzb7" patternUnits="userSpaceOnUse" width="15.700" height="7.930" x="862.244" y="303.109"><rect width="15.700" height="7.930" fill="#fff"/><path d="M0.98 0.99L-0.98 2.97M0.98 8.92L-0.98 10.90M16.68 0.99L14.72 2.97M16.68 8.92L14.72 10.90M0.98 0.99L2.94 2.97M0.98 8.92L2.94 10.90M16.68 0.99L18.64 2.97M16.68 8.92L18.64 10.90M8.83 0.99L10.79 2.97M8.83 8.92L10.79 10.90M2.94 2.97L4.91 4.96M10.79 2.97L12.76 4.96M-0.98 2.97L-2.94 4.96M14.72 2.97L12.76 4.96M4.91 -2.97L2.94 -0.99M4.91 4.96L2.94 6.94M4.91 -2.97L6.87 -0.99M4.91 4.96L6.87 6.94M12.76 -2.97L10.79 -0.99M12.76 4.96L10.79 6.94M2.94 -0.99L0.98 0.99M2.94 6.94L0.98 8.92M18.64 -0.99L16.68 0.99M18.64 6.94L16.68 8.92M6.87 -0.99L8.83 0.99M6.87 6.94L8.83 8.92M10.79 -0.99L8.83 0.99M10.79 6.94L8.83 8.92" stroke="#5f97d8" stroke-width="1.00" fill="none"/><g fill="#2163c0"><rect x="0.11" y="0.12" width="1.75" height="1.75"/><rect x="0.11" y="8.05" width="1.75" height="1.75"/><rect x="15.81" y="0.12" width="1.75" height="1.75"/><rect x="15.81" y="8.05" width="1.75" height="1.75"/><rect x="7.96" y="0.12" width="1.75" height="1.75"/><rect x="7.96" y="8.05" width="1.75" height="1.75"/><rect x="2.07" y="2.10" width="1.75" height="1.75"/><rect x="9.92" y="2.10" width="1.75" height="1.75"/><rect x="13.84" y="2.10" width="1.75" height="1.75"/><rect x="4.03" y="4.08" width="1.75" height="1.75"/><rect x="11.88" y="4.08" width="1.75" height="1.75"/><rect x="2.07" y="6.06" width="1.75" height="1.75"/><rect x="5.99" y="6.06" width="1.75" height="1.75"/><rect x="9.92" y="6.06" width="1.75" height="1.75"/></g></pattern><pattern id="zz" patternUnits="userSpaceOnUse" width="15.700" height="7.930" x="494.669" y="8.009"><rect width="15.700" height="7.930" fill="#fff"/><path d="M0.98 0.99L-0.98 2.97M0.98 8.92L-0.98 10.90M16.68 0.99L14.72 2.97M16.68 8.92L14.72 10.90M0.98 0.99L2.94 2.97M0.98 8.92L2.94 10.90M16.68 0.99L18.64 2.97M16.68 8.92L18.64 10.90M8.83 0.99L10.79 2.97M8.83 8.92L10.79 10.90M2.94 2.97L4.91 4.96M10.79 2.97L12.76 4.96M-0.98 2.97L-2.94 4.96M14.72 2.97L12.76 4.96M4.91 -2.97L2.94 -0.99M4.91 4.96L2.94 6.94M4.91 -2.97L6.87 -0.99M4.91 4.96L6.87 6.94M12.76 -2.97L10.79 -0.99M12.76 4.96L10.79 6.94M2.94 -0.99L0.98 0.99M2.94 6.94L0.98 8.92M18.64 -0.99L16.68 0.99M18.64 6.94L16.68 8.92M6.87 -0.99L8.83 0.99M6.87 6.94L8.83 8.92M10.79 -0.99L8.83 0.99M10.79 6.94L8.83 8.92" stroke="#5f97d8" stroke-width="1.00" fill="none"/><g fill="#2163c0"><rect x="0.11" y="0.12" width="1.75" height="1.75"/><rect x="0.11" y="8.05" width="1.75" height="1.75"/><rect x="15.81" y="0.12" width="1.75" height="1.75"/><rect x="15.81" y="8.05" width="1.75" height="1.75"/><rect x="7.96" y="0.12" width="1.75" height="1.75"/><rect x="7.96" y="8.05" width="1.75" height="1.75"/><rect x="2.07" y="2.10" width="1.75" height="1.75"/><rect x="9.92" y="2.10" width="1.75" height="1.75"/><rect x="13.84" y="2.10" width="1.75" height="1.75"/><rect x="4.03" y="4.08" width="1.75" height="1.75"/><rect x="11.88" y="4.08" width="1.75" height="1.75"/><rect x="2.07" y="6.06" width="1.75" height="1.75"/><rect x="5.99" y="6.06" width="1.75" height="1.75"/><rect x="9.92" y="6.06" width="1.75" height="1.75"/></g></pattern></defs>
</svg></body></html>
